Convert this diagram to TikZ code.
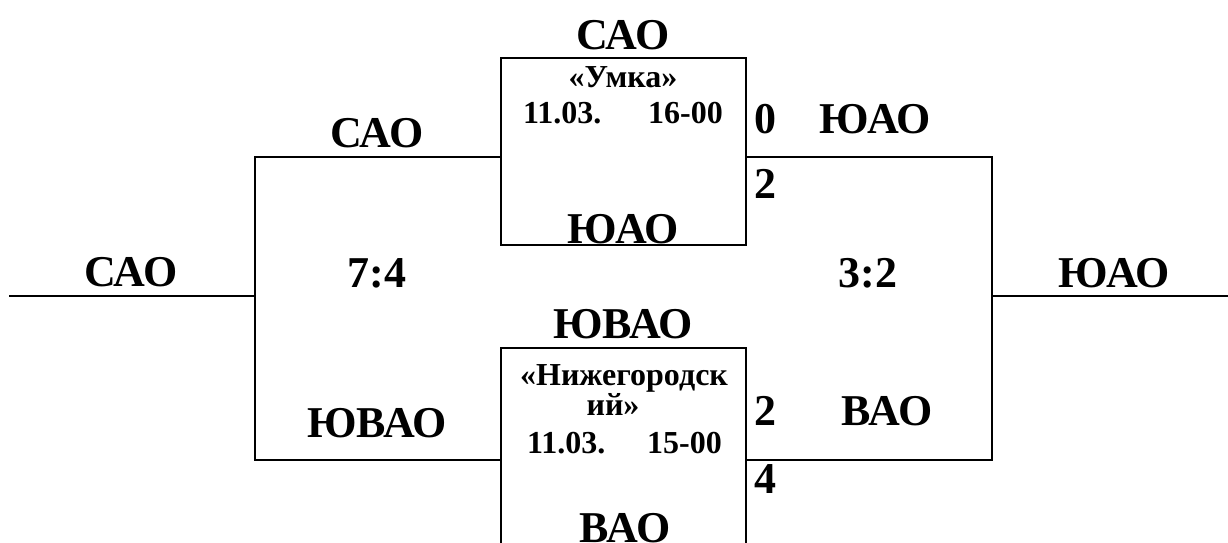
\documentclass[tikz,border=0pt]{standalone}
\usepackage{fontspec}
\setmainfont{Liberation Serif}
\begin{document}
\begin{tikzpicture}[x=1pt,y=-1pt,
  big/.style={font=\fontsize{44}{50}\selectfont\bfseries, inner sep=0pt, anchor=base},
  small/.style={font=\fontsize{32}{38}\selectfont\bfseries, inner sep=0pt, anchor=base},
  ln/.style={line width=2pt}]
\useasboundingbox (0,0) rectangle (1228,543);
% coordinates
\coordinate (inL) at (9,296);
\coordinate (bl) at (255,296);
\coordinate (blT) at (255,157);
\coordinate (blB) at (255,460);
\coordinate (tbLT) at (501,58);
\coordinate (tbRB) at (746,245);
\coordinate (tbLm) at (501,157);
\coordinate (tbRm) at (746,157);
\coordinate (bbL) at (501,348);
\coordinate (bbR) at (746,348);
\coordinate (bbLlow) at (501,560);
\coordinate (bbRlow) at (746,560);
\coordinate (bbLm) at (501,460);
\coordinate (bbRm) at (746,460);
\coordinate (brT) at (992,157);
\coordinate (brB) at (992,460);
\coordinate (br) at (992,296);
\coordinate (outR) at (1228,296);
% lines
\draw[ln] (inL) -- (bl);
\draw[ln] (tbLm) -- (blT) -- (blB) -- (bbLm);
\draw[ln] (tbLT) rectangle (tbRB);
\draw[ln] (bbLlow) -- (bbL) -- (bbR) -- (bbRlow);
\draw[ln] (tbRm) -- (brT) -- (brB) -- (bbRm);
\draw[ln] (br) -- (outR);
% texts
\node[big] (t1) at (623,50) {САО};
\node[small] (t2) at (623,88) {«Умка»};
\node[small,anchor=base west] (t3) at (523,123) {11.03.};
\node[small,anchor=base east] (t4) at (723,123) {16-00};
\node[big] (t5) at (623,243) {ЮАО};
\node[big] (t6) at (131,286) {САО};
\node[big] (t7) at (377,147) {САО};
\node[big] (t8) at (377,287) {7:4};
\node[big] (t9) at (377,437) {ЮВАО};
\node[big] (t10) at (765,133) {0};
\node[big] (t11) at (875,133) {ЮАО};
\node[big] (t12) at (765,198) {2};
\node[big] (t13) at (868,287) {3:2};
\node[big] (t14) at (1114,287) {ЮАО};
\node[big] (t15) at (765,425) {2};
\node[big] (t16) at (887,425) {ВАО};
\node[big] (t17) at (765,493) {4};
\node[big] (t18) at (623,338) {ЮВАО};
\node[small] (t19) at (624,385) {«Нижегородск};
\node[small] (t20) at (613,415) {ий»};
\node[small,anchor=base west] (t21) at (527,453) {11.03.};
\node[small,anchor=base east] (t22) at (722,453) {15-00};
\node[big] (t23) at (625,542) {ВАО};
\end{tikzpicture}
\end{document}
